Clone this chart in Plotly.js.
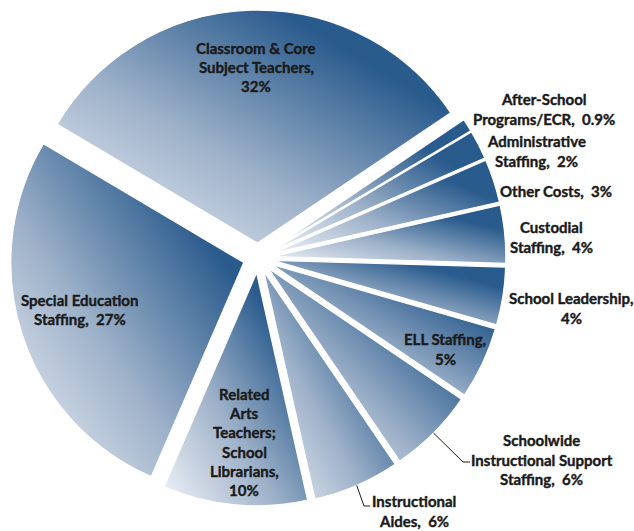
<!DOCTYPE html>
<html><head><meta charset="utf-8">
<script src="https://cdn.plot.ly/plotly-3.0.1.min.js"></script>
<style>html,body{margin:0;padding:0;background:#fff}#chart{width:634px;height:531px}</style>
</head><body><div id="chart"></div>
<script>
// ---- data ----
const categories = ["After-School Programs/ECR", "Administrative Staffing", "Other Costs", "Custodial Staffing",
  "School Leadership", "ELL Staffing", "Schoolwide Instructional Support Staffing", "Instructional Aides",
  "Related Arts Teachers; School Librarians", "Special Education Staffing", "Classroom & Core Subject Teachers"];
const shares = [0.9, 2, 3, 4, 4, 5, 6, 6, 10, 27, 32];
const labelText = ["After-School<br>Programs/ECR,  0.9%", "Administrative<br>Staffing,  2%", "Other Costs,  3%",
  "Custodial<br>Staffing,  4%", "School Leadership,<br>4%", "ELL Staffing,<br>5%",
  "Schoolwide<br>Instructional Support<br>Staffing,  6%", "Instructional<br>Aides,  6%",
  "Related<br>Arts<br>Teachers;<br>School<br>Librarians,<br>10%", "Special Education<br>Staffing,  27%",
  "Classroom & Core<br>Subject Teachers,<br>32%"];

// ---- layout / geometry (pixels) ----
const W = 634, H = 531, CX = 258, CY = 258, R = 233, PULL = 0.064, ROT = 56, LH = 19.2;
const labelPos = [[544,109],[536,151],[556,191],[551,237],[571,308],[445,349],[541.5,459.5],[414,511],[244,442],[79.5,309.5],[256,67]];
const leaderBends = {6: [[463,462],[470,462]], 7: [[364,506],[370,506]]};
const FONT = {family: "Lato, 'Open Sans', sans-serif", size: 15, color: "#1a1a1a", weight: "bold"};

const half = R * (1 + PULL);
const px = x => x / W, py = y => 1 - y / H;

const total = shares.reduce((a, b) => a + b, 0);
let cum = 0;
const midAngles = shares.map(v => { const m = ROT + (cum + v / 2) / total * 360; cum += v; return m; });

const annotations = [];
labelText.forEach((t, i) => {
  const lines = t.split('<br>');
  lines.forEach((ln, j) => {
    annotations.push({
      xref: 'paper', yref: 'paper', showarrow: false, xanchor: 'center', yanchor: 'middle', borderpad: 0,
      x: px(labelPos[i][0]), y: py(labelPos[i][1] + (j - (lines.length - 1) / 2) * LH),
      text: ln, font: FONT
    });
  });
});

const shapes = [];
Object.keys(leaderBends).forEach(k => {
  const i = +k, a = midAngles[i] * Math.PI / 180;
  const start = [CX + R * (1 + PULL) * Math.sin(a), CY - R * (1 + PULL) * Math.cos(a)];
  const pts = [start].concat(leaderBends[k]);
  for (let s = 0; s < pts.length - 1; s++) {
    shapes.push({type: 'line', xref: 'paper', yref: 'paper',
      x0: px(pts[s][0]), y0: py(pts[s][1]), x1: px(pts[s+1][0]), y1: py(pts[s+1][1]),
      line: {color: '#1a1a1a', width: 1}});
  }
});

const data = [{
  type: 'pie', labels: categories, values: shares, sort: false, direction: 'clockwise', rotation: ROT,
  pull: shares.map(() => PULL), textinfo: 'none', hoverinfo: 'none',
  marker: {colors: shares.map(() => '#2a5b8d'), line: {color: '#ffffff', width: 1.2}},
  domain: {x: [(CX - half) / W, (CX + half) / W], y: [1 - (CY + half) / H, 1 - (CY - half) / H]}
}];

const layout = {width: W, height: H, margin: {l: 0, r: 0, t: 0, b: 0}, showlegend: false,
  paper_bgcolor: '#ffffff', plot_bgcolor: '#ffffff', annotations, shapes};

Plotly.newPlot('chart', data, layout, {staticPlot: true, displayModeBar: false}).then(gd => {
  const NS = 'http://www.w3.org/2000/svg';
  const svg = gd.querySelector('svg.main-svg');
  let defs = svg.querySelector('defs');
  if (!defs) { defs = document.createElementNS(NS, 'defs'); svg.insertBefore(defs, svg.firstChild); }
  const lg = document.createElementNS(NS, 'linearGradient');
  lg.setAttribute('id', 'sliceGrad');
  lg.setAttribute('x1', '0'); lg.setAttribute('y1', '1'); lg.setAttribute('x2', '1'); lg.setAttribute('y2', '0');
  [[0, '#f0f3f8'], [0.4, '#9db1c9'], [0.78, '#2a5b8d'], [1, '#285a8c']].forEach(([o, c]) => {
    const st = document.createElementNS(NS, 'stop');
    st.setAttribute('offset', o); st.setAttribute('stop-color', c);
    lg.appendChild(st);
  });
  defs.appendChild(lg);
  gd.querySelectorAll('g.slice path.surface').forEach(p => { p.style.fill = 'url(#sliceGrad)'; });
  gd.querySelectorAll('.annotation-text').forEach(t => {
    t.style.stroke = '#1a1a1a'; t.style.strokeWidth = '0.4px'; t.style.paintOrder = 'stroke';
  });
});
</script></body></html>
